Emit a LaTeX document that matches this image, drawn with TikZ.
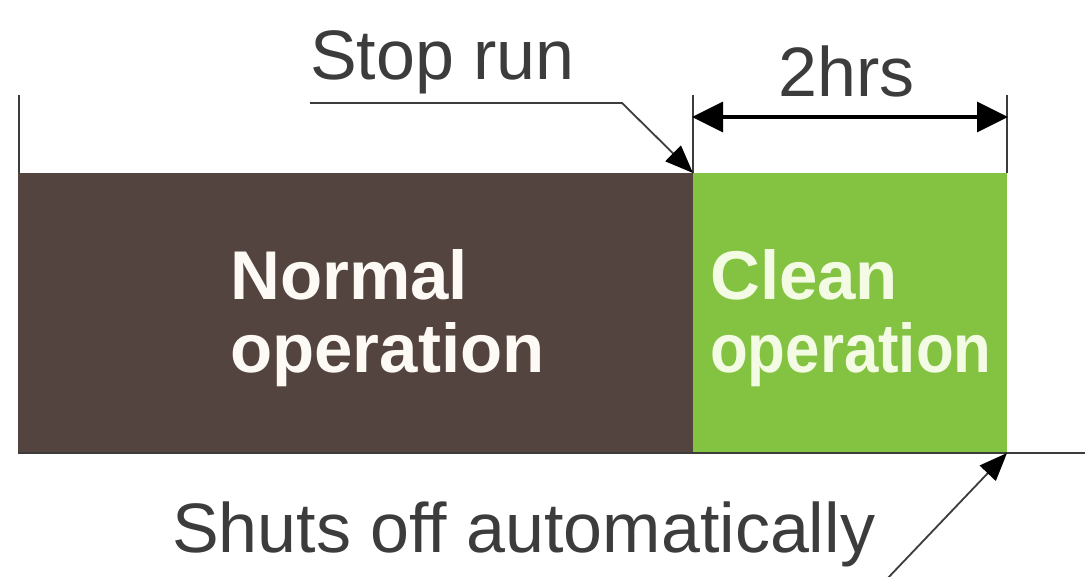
\documentclass[tikz,border=0pt]{standalone}
\usepackage{fontspec}
\setmainfont{Liberation Sans}
\usetikzlibrary{arrows.meta}
\definecolor{brownbar}{HTML}{54443F}
\definecolor{greenbar}{HTML}{83C341}
\definecolor{labelgray}{HTML}{3C3C3C}
\definecolor{cleantext}{HTML}{F4FBE4}
\definecolor{normtext}{HTML}{FDFAF6}
\tikzset{
  x=1pt, y=-1pt,
  bar/.style={draw=none, inner sep=0pt, outer sep=0pt, anchor=north west, rectangle},
  lbl/.style={inner sep=0pt, anchor=base west, text=labelgray, font=\fontsize{70}{75}\selectfont},
  inlbl/.style={inner sep=0pt, anchor=base west, font=\fontsize{69}{75}\selectfont\bfseries},
  tick/.style={draw=labelgray, line width=1.6pt},
  leader/.style={draw=labelgray, line width=1.8pt, -{Triangle[length=28pt,width=22pt,color=black]}},
  dimline/.style={draw=black, line width=3.5pt, {Triangle[length=31pt,width=30pt]}-{Triangle[length=31pt,width=30pt]}, shorten <=-1pt, shorten >=-1pt}
}
\begin{document}
\begin{tikzpicture}
\useasboundingbox (0,0) rectangle (1085,577);
\fill[white] (0,0) rectangle (1085,577);
% bars
\node[bar, fill=brownbar, minimum width=675pt, minimum height=280pt] (normal) at (18,173) {};
\node[bar, fill=greenbar, minimum width=314pt, minimum height=280pt] (clean) at (693,173) {};
% base line
\coordinate (rightend) at (1085,453);
\draw[draw=labelgray, line width=2pt] (normal.south west) -- (rightend);
% ticks
\coordinate (ltop) at (19,95);
\coordinate (mtop) at (693,95);
\coordinate (rtop) at (1007,95);
\draw[tick] (ltop) -- (19,173);
\draw[tick] (mtop) -- (clean.north west);
\draw[tick] (rtop) -- (1007,173);
% dimension
\coordinate (dl) at (693,117);
\coordinate (dr) at (1007,117);
\draw[dimline] (dl) -- (dr);
\node[lbl] (hrs) at (778,97) {2hrs};
% stop run
\node[lbl] (stop) at (310,80) {Stop run};
\coordinate (s0) at (310,103);
\coordinate (s1) at (622,103);
\draw[leader] (s0) -- (s1) -- (clean.north west);
% shuts off
\node[lbl] (shut) at (172,552) {Shuts off automatically};
\coordinate (a0) at (886,580);
\draw[leader] (a0) -- (clean.south east);
% inner labels
\node[inlbl, text=normtext] (n1) at (230,300) {Normal};
\node[inlbl, text=normtext] (n2) at (230,373) {operation};
\node[inlbl, text=cleantext] (c1) at (710,300) {Clean};
\node[inlbl, text=cleantext] (c2) at (710,373) {\scalebox{0.895}[1]{operation}};
\end{tikzpicture}
\end{document}
